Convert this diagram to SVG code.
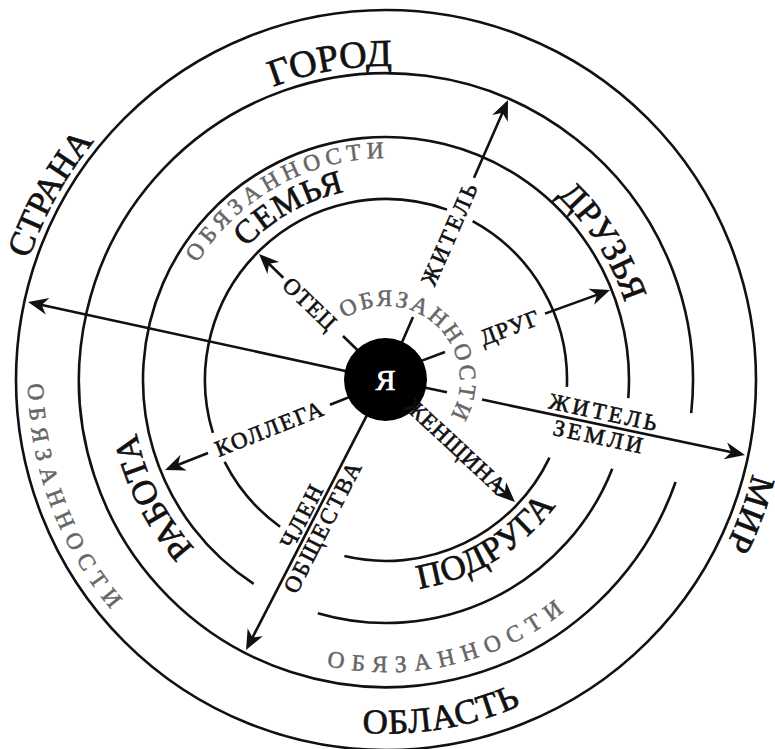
<svg xmlns="http://www.w3.org/2000/svg" width="775" height="749" viewBox="0 0 775 749">
<style>
.ln{fill:none;stroke:#111;stroke-width:2.6}
.big{font-family:"Liberation Serif",serif;fill:#111;stroke:#111;stroke-width:0.7}
.sp{font-family:"Liberation Serif",serif;fill:#111;stroke:#111;stroke-width:0.6;font-size:23px}
.gr{font-family:"Liberation Serif",serif;fill:#666;stroke:#666;stroke-width:0.5;font-size:23.5px}
</style>
<defs>
<marker id="ah" viewBox="-16 -10 24 20" refX="0" refY="0" markerWidth="24" markerHeight="20" markerUnits="userSpaceOnUse" orient="auto">
<path d="M6,0 L-14,-8.5 L-8,0 L-14,8.5 Z" fill="#111"/>
</marker>
<path id="pGorod" d="M72,380 A314,314 0 0 1 681.1,272.6"/>
<path id="pStrana" d="M148.8,673 A377,377 0 0 1 508.7,23.5"/>
<path id="pSemya" d="M204,444.1 A193,193 0 0 1 535.1,257.5"/>
<path id="pDruzya" d="M289.9,148.1 A251,251 0 0 1 555.6,565.1"/>
<path id="pRabota" d="M459.3,624.2 A255,255 0 0 1 233.6,175.5"/>
<path id="pMir" d="M576.7,53.6 A378,378 0 0 1 318.4,751.9"/>
<path id="pOblast" d="M66.9,493.6 A333,333 0 0 0 719,380"/>
<path id="pPodruga" d="M227.7,519.5 A211,211 0 0 0 582.5,303"/>
<path id="pObC" d="M336.8,324.8 A74,74 0 0 1 444.1,425.9"/>
<path id="pObUL" d="M175.7,451.2 A222,222 0 0 1 559.2,241.2"/>
<path id="pObL" d="M202.7,72.5 A358,358 0 0 0 453.1,731.7"/>
<path id="pObB" d="M118.6,497.4 A292,292 0 0 0 677.4,361.2"/>
</defs>

<g id="rings">
<circle class="ln" cx="386" cy="380" r="370"/>
<path class="ln" d="M675.6,482 A307,307 0 1 1 691.2,413.2"/>
<path class="ln" d="M612.3,468.7 A243,243 0 0 1 317.8,613.2"/>
<path class="ln" d="M253.7,583.8 A243,243 0 1 1 628.3,398.2"/>
<path class="ln" d="M472.6,221.1 A181,181 0 0 1 566.9,386.9"/>
<path class="ln" d="M549.5,457.6 A181,181 0 0 1 344.4,556.1"/>
<path class="ln" d="M280.1,526.8 A181,181 0 0 1 224.6,461.9"/>
<path class="ln" d="M212.9,432.9 A181,181 0 0 1 447,209.6"/>
</g>

<g id="connectors">
<line class="ln" x1="283.3" y1="277.7" x2="263.3" y2="258.2" marker-end="url(#ah)"/>
<line class="ln" x1="343" y1="336" x2="362" y2="354.5"/>
<line class="ln" x1="401" y1="344.5" x2="413" y2="317"/>
<line class="ln" x1="474" y1="177.8" x2="505.6" y2="105.5" marker-end="url(#ah)"/>
<line class="ln" x1="420" y1="361.4" x2="445" y2="352"/>
<line class="ln" x1="545" y1="313.6" x2="604.4" y2="292.1" marker-end="url(#ah)"/>
<line class="ln" x1="410" y1="384.4" x2="447" y2="392.2"/>
<line class="ln" x1="482" y1="399.6" x2="739.1" y2="453.8" marker-end="url(#ah)"/>
<line class="ln" x1="495.3" y1="483.6" x2="510.6" y2="497.9" marker-end="url(#ah)"/>
<line class="ln" x1="370.7" y1="407.8" x2="248.8" y2="644.7" marker-end="url(#ah)"/>
<line class="ln" x1="360" y1="392.9" x2="330" y2="404.7"/>
<line class="ln" x1="208" y1="453" x2="170.6" y2="467.8" marker-end="url(#ah)"/>
<line class="ln" x1="350" y1="371.9" x2="33.9" y2="303.3" marker-end="url(#ah)"/>
</g>

<g id="node-ya">
<circle cx="385.5" cy="379.5" r="41.5" fill="#000"/>
<text x="385.5" y="390" text-anchor="middle" font-family="Liberation Serif, serif" font-size="30" fill="#fff" stroke="#fff" stroke-width="0.7">Я</text>
</g>

<g id="labels-spokes">
<text class="sp" transform="translate(310,304) rotate(44)" y="7.6" text-anchor="middle" letter-spacing="1.1">ОТЕЦ</text>
<text class="sp" transform="translate(450,233) rotate(-66.4)" y="7.6" text-anchor="middle" letter-spacing="3">ЖИТЕЛЬ</text>
<text class="sp" transform="translate(510,327.6) rotate(-20.6)" y="7.6" text-anchor="middle" letter-spacing="1.2">ДРУГ</text>
<text class="sp" transform="translate(602,424.9) rotate(11.9)" y="-5" text-anchor="middle" letter-spacing="3.2">ЖИТЕЛЬ</text>
<text class="sp" transform="translate(602,424.9) rotate(11.9)" y="20" text-anchor="middle" letter-spacing="3.1">ЗЕМЛИ</text>
<text class="sp" transform="translate(455,446.5) rotate(43)" y="6.8" text-anchor="middle" letter-spacing="0.6" font-size="19">ЖЕНЩИНА</text>
<text class="sp" transform="translate(312.5,521) rotate(-62.8)" y="-4" text-anchor="middle" letter-spacing="2.1">ЧЛЕН</text>
<text class="sp" transform="translate(312.5,521) rotate(-62.8)" y="19.5" text-anchor="middle" letter-spacing="2.4">ОБЩЕСТВА</text>
<text class="sp" transform="translate(270,428.5) rotate(-21.6)" y="7.6" text-anchor="middle" letter-spacing="1.9">КОЛЛЕГА</text>
</g>

<g id="labels-rings">
<text class="big" font-size="38"><textPath href="#pGorod" startOffset="50%" text-anchor="middle">ГОРОД</textPath></text>
<text class="big" font-size="35"><textPath href="#pStrana" startOffset="50%" text-anchor="middle">СТРАНА</textPath></text>
<text class="big" font-size="33" letter-spacing="1"><textPath href="#pSemya" startOffset="50%" text-anchor="middle">СЕМЬЯ</textPath></text>
<text class="big" font-size="35" letter-spacing="0.5"><textPath href="#pDruzya" startOffset="50%" text-anchor="middle">ДРУЗЬЯ</textPath></text>
<text class="big" font-size="35"><textPath href="#pRabota" startOffset="50%" text-anchor="middle">РАБОТА</textPath></text>
<text class="big" font-size="35" letter-spacing="1"><textPath href="#pMir" startOffset="50%" text-anchor="middle">МИР</textPath></text>
<text class="big" font-size="35" letter-spacing="1"><textPath href="#pOblast" startOffset="50%" text-anchor="middle">ОБЛАСТЬ</textPath></text>
<text class="big" font-size="35" letter-spacing="1"><textPath href="#pPodruga" startOffset="50%" text-anchor="middle">ПОДРУГА</textPath></text>
</g>

<g id="labels-duties">
<text class="gr" letter-spacing="2.5"><textPath href="#pObC" startOffset="50%" text-anchor="middle">ОБЯЗАННОСТИ</textPath></text>
<text class="gr" letter-spacing="5.1"><textPath href="#pObUL" startOffset="50%" text-anchor="middle">ОБЯЗАННОСТИ</textPath></text>
<text class="gr" letter-spacing="7.3"><textPath href="#pObL" startOffset="50%" text-anchor="middle">ОБЯЗАННОСТИ</textPath></text>
<text class="gr" letter-spacing="7.9"><textPath href="#pObB" startOffset="50%" text-anchor="middle">ОБЯЗАННОСТИ</textPath></text>
</g>
</svg>
